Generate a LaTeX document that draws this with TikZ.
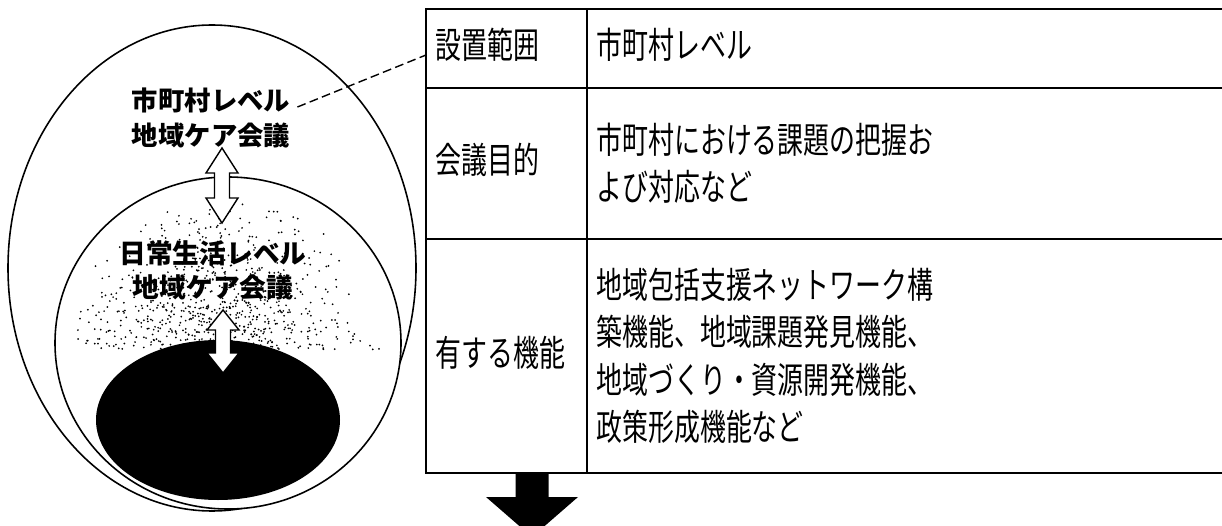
\documentclass[tikz,border=0pt]{standalone}
\usepackage{fontspec}
\setmainfont{Noto Sans CJK JP}
\newfontfamily\tblfont[FakeStretch=0.72]{Noto Sans CJK JP}
\usetikzlibrary{calc}

\begin{document}
\begin{tikzpicture}[x=0.02cm, y=-0.02cm,
    ring/.style={draw, line width=0.9pt},
    label/.style={font=\bfseries\fontsize{15}{20}\selectfont, align=center, inner sep=0pt},
    cell/.style={font=\tblfont\fontsize{20.5}{27}\selectfont, anchor=west, align=left, inner sep=0pt},
    grid/.style={line width=1pt},
    pics/twoway/.style 2 args={code={
        \draw[fill=white, line width=0.8pt] (0,0) -- (16,#2) -- (7.5,#2) -- (7.5,#1-#2)
            -- (16,#1-#2) -- (0,#1) -- (-16,#1-#2) -- (-7.5,#1-#2) -- (-7.5,#2)
            -- (-16,#2) -- cycle;}}]
    \useasboundingbox (0,0) rectangle (1222,526);
    \clip (0,0) rectangle (1222,526);

    % nested levels
    \draw[ring] (212,268) ellipse [x radius=204, y radius=243];
    \draw[ring, fill=white] (228,343) ellipse [x radius=173, y radius=166];
    \begin{scope}
        \clip (228,343) ellipse [x radius=173, y radius=166];
        \pgfmathsetseed{11}
        \foreach \i in {1,...,800}{
            \pgfmathsetmacro{\t}{sqrt(rnd)}
            \pgfmathsetmacro{\dy}{200+150*\t}
            \pgfmathsetmacro{\dx}{222+(rnd+rnd-1)*(95+75*\t)}
            \fill (\dx,\dy) circle [radius=0.55pt];
        }
    \end{scope}
    \fill (218,420) ellipse [x radius=122, y radius=80];

    \node[label] (city) at (211,118) {市町村レベル\\地域ケア会議};
    \node[label, font=\bfseries\fontsize{15.2}{19.4}\selectfont] (daily) at (213,270) {日常生活レベル\\地域ケア会議};

    \pic at (222,148) {twoway={75}{25}};
    \pic at (223,310) {twoway={63}{20}};

    % table
    \draw[grid] (1222,9) -- (426,9) -- (426,473) -- (1222,473);
    \draw[grid] (426,88) -- (1222,88);
    \draw[grid] (426,239) -- (1222,239);
    \draw[grid] (587,9) -- (587,473);
    \coordinate (row1) at (426,55);
    \coordinate (tblbot) at (532,473);

    \node[cell] (range) at (435,45) {設置範囲};
    \node[cell] (aim) at (435,160) {会議目的};
    \node[cell] (func) at (435,353) {有する機能};
    \node[cell] (rangetxt) at (596,45) {市町村レベル};
    \node[cell] (aimtxt) at (596,163) {市町村における課題の把握お\\よび対応など};
    \node[cell] (functxt) at (596,356) {地域包括支援ネットワーク構\\築機能、地域課題発見機能、\\地域づくり・資源開発機能、\\政策形成機能など};

    \draw[dash pattern=on 5pt off 2.5pt, line width=0.8pt] ([xshift=4pt, yshift=0.22cm]city.east) -- (row1);

    \fill ($(tblbot)+(-16.5,0)$) -- ++(0,24) -- ++(-29.5,0) -- ($(tblbot)+(0,64)$)
        -- ($(tblbot)+(46,24)$) -- ++(-29.5,0) -- ($(tblbot)+(16.5,0)$) -- cycle;
\end{tikzpicture}
\end{document}
